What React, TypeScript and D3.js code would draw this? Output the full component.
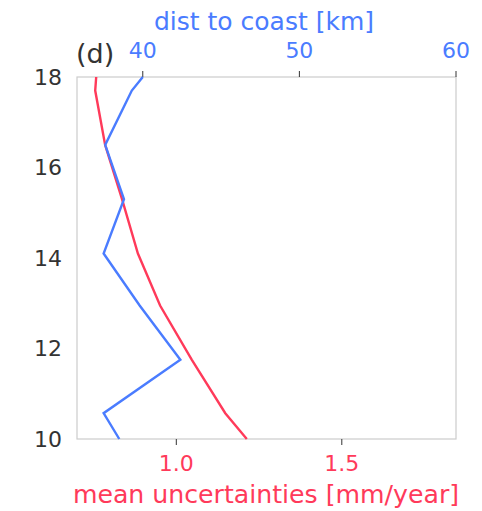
import React from 'react'
import * as d3 from 'd3'

// depth levels (left axis) shared by both profiles
const levels = [18, 17.7, 16.5, 15.3, 14.1, 12.95, 11.75, 10.57, 10]
// dist to coast [km] (top axis)
const distKm = [40.0, 39.3, 37.6, 38.8, 37.5, 39.8, 42.4, 37.5, 38.5]
// mean uncertainties [mm/year] (bottom axis)
const uncert = [0.758, 0.755, 0.785, 0.836, 0.884, 0.951, 1.047, 1.148, 1.213]

const yTicks = [10, 12, 14, 16, 18]
const topTicks = [40, 50, 60]
const bottomTicks = [1.0, 1.5]

const BLUE = '#4a7cff'
const RED = '#ff3a5a'
const FONT = 'DejaVu Sans, sans-serif'

export default function App() {
  const width = 482
  const height = 511
  const m = { left: 77, right: 456, top: 77, bottom: 439 }

  const y = d3.scaleLinear().domain([10, 18]).range([m.bottom, m.top])
  const xTop = d3.scaleLinear().domain([35.8, 60]).range([m.left, m.right])
  const xBot = d3.scaleLinear().domain([0.7, 1.845]).range([m.left, m.right])

  const blueLine = d3.line<number>().x((d, i) => xTop(distKm[i])).y(d => y(d))
  const redLine = d3.line<number>().x((d, i) => xBot(uncert[i])).y(d => y(d))

  return (
    <svg width={width} height={height} style={{ position: 'absolute', left: 0, top: 0 }} fontFamily={FONT}>
      <rect x={m.left} y={m.top} width={m.right - m.left} height={m.bottom - m.top}
        fill="white" stroke="#cccccc" strokeWidth={1.2} />

      {yTicks.map(t => (
        <text key={t} x={62} y={y(t)} dy="0.36em" textAnchor="end" fontSize={22} fill="#333">{t}</text>
      ))}

      {topTicks.map(t => (
        <g key={t}>
          <line x1={xTop(t)} x2={xTop(t)} y1={m.top} y2={m.top - 6} stroke="#333" strokeWidth={1} />
          <text x={xTop(t)} y={58} textAnchor="middle" fontSize={22} fill={BLUE}>{t}</text>
        </g>
      ))}
      <text x={264} y={30} textAnchor="middle" fontSize={25} fill={BLUE}>dist to coast [km]</text>

      {bottomTicks.map(t => (
        <g key={t}>
          <line x1={xBot(t)} x2={xBot(t)} y1={m.bottom} y2={m.bottom + 6} stroke="#333" strokeWidth={1} />
          <text x={xBot(t)} y={471} textAnchor="middle" fontSize={22} fill={RED}>{d3.format('.1f')(t)}</text>
        </g>
      ))}
      <text x={266} y={503} textAnchor="middle" fontSize={25.2} fill={RED}>mean uncertainties [mm/year]</text>

      <text x={76} y={63} fontSize={27} fill="#333">(d)</text>

      <path d={redLine(levels) ?? ''} fill="none" stroke={RED} strokeWidth={2.4} />
      <path d={blueLine(levels) ?? ''} fill="none" stroke={BLUE} strokeWidth={2.4} />
    </svg>
  )
}
